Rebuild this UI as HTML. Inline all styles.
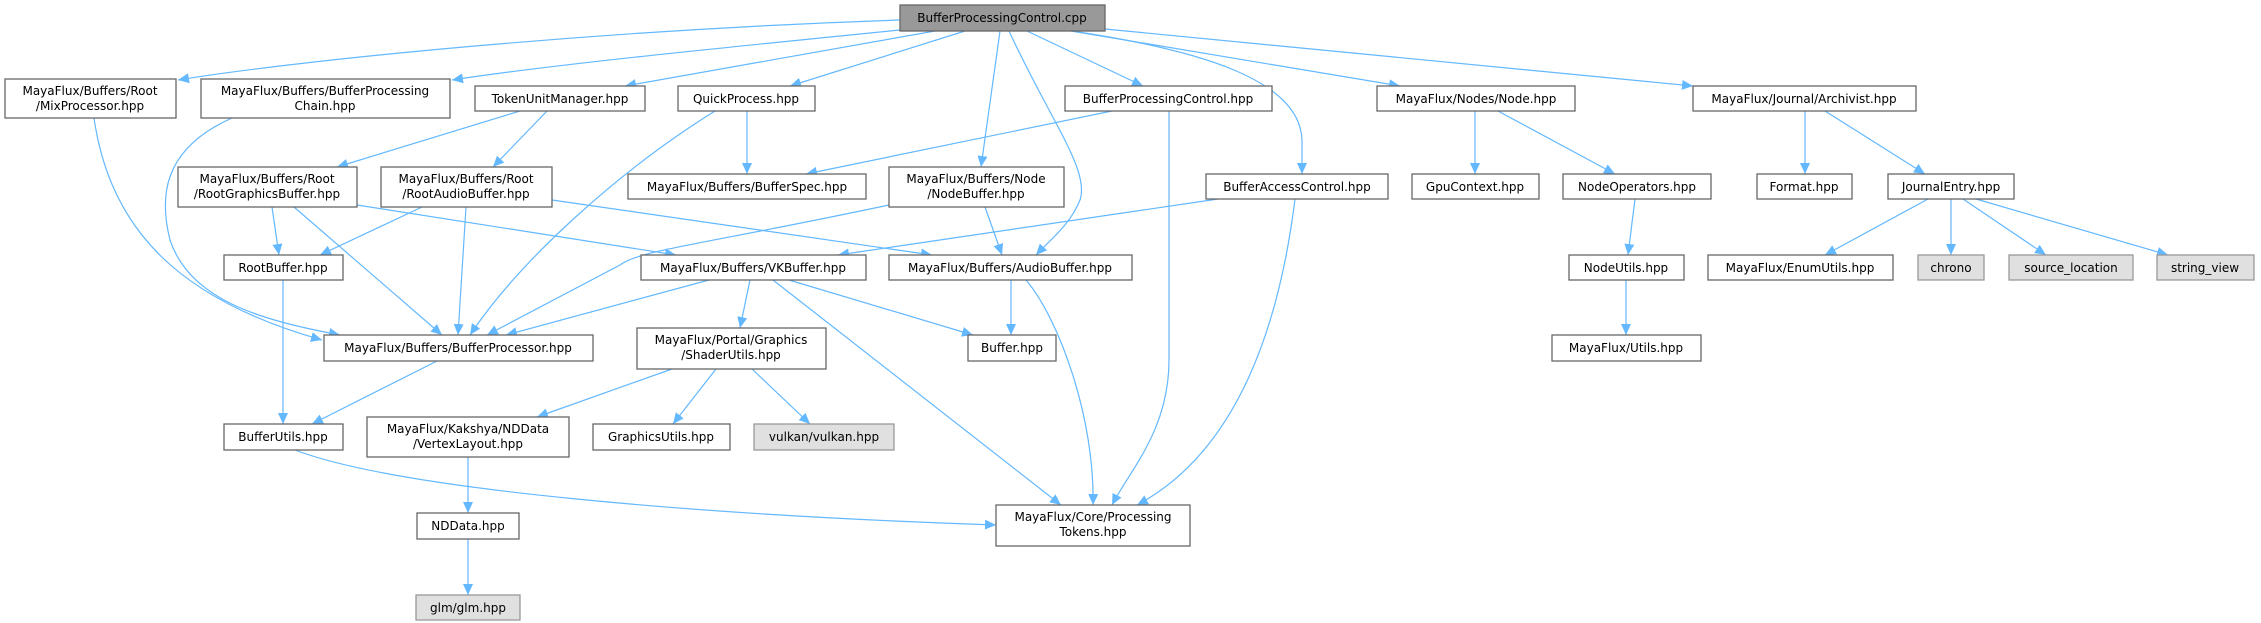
<!DOCTYPE html>
<html><head><meta charset="utf-8"><style>
html,body{margin:0;padding:0;background:#fff;}
svg{display:block;}
text{font-family:"DejaVu Sans","Liberation Sans",sans-serif;font-size:12px;fill:#000;}
.n{fill:#fff;stroke:#666;stroke-width:1.3;}
.g{fill:#e0e0e0;stroke:#999;stroke-width:1.3;}
.m{fill:#999;stroke:#666;stroke-width:1.3;}
.e{fill:none;stroke:#63b8ff;stroke-width:1.2;}
</style></head><body>
<svg width="2261" height="623" viewBox="0 0 2261 623" xmlns="http://www.w3.org/2000/svg">
<defs><marker id="a" markerUnits="userSpaceOnUse" markerWidth="12" markerHeight="10" refX="11" refY="5" orient="auto"><path d="M0,0 L11,5 L0,10 Z" fill="#63b8ff"/></marker></defs>
<g marker-end="url(#a)">
<path class="e" d="M900,20 C600,30 300,60 178,80"/>
<path class="e" d="M900,30 C700,50 550,65 452,80"/>
<path class="e" d="M935,31 C800,55 700,72 625,86"/>
<path class="e" d="M965,31 L790,86"/>
<path class="e" d="M1000,31 L981,167"/>
<path class="e" d="M1009,31 C1050,120 1090,170 1080,200 C1070,225 1050,240 1036,255"/>
<path class="e" d="M1027,31 L1143,86"/>
<path class="e" d="M1072,31 C1200,50 1300,80 1302,140 L1302,174"/>
<path class="e" d="M1071,31 L1400,86"/>
<path class="e" d="M1105,29 L1693,86"/>
<path class="e" d="M520,111 L337,167"/>
<path class="e" d="M547,111 L493,167"/>
<path class="e" d="M747,111 L747,174"/>
<path class="e" d="M715,111 C620,170 520,260 470,335"/>
<path class="e" d="M1112,111 L806,174"/>
<path class="e" d="M1169,111 L1169,360 C1169,430 1130,470 1112,505"/>
<path class="e" d="M1295,199 C1280,320 1240,450 1137,505"/>
<path class="e" d="M1026,280 C1060,320 1095,420 1093,505"/>
<path class="e" d="M1011,280 L1011,335"/>
<path class="e" d="M773,280 L1061,505"/>
<path class="e" d="M789,280 L973,335"/>
<path class="e" d="M750,280 L740,328"/>
<path class="e" d="M709,280 L506,335"/>
<path class="e" d="M1475,111 L1475,174"/>
<path class="e" d="M1498,111 L1615,174"/>
<path class="e" d="M1805,111 L1805,174"/>
<path class="e" d="M1825,111 L1925,174"/>
<path class="e" d="M1928,199 L1825,255"/>
<path class="e" d="M1951,199 L1951,255"/>
<path class="e" d="M1963,199 L2046,255"/>
<path class="e" d="M1976,199 L2168,255"/>
<path class="e" d="M1635,199 L1628,255"/>
<path class="e" d="M1626,280 L1626,335"/>
<path class="e" d="M985,207 L1002,255"/>
<path class="e" d="M94,118 C110,230 180,300 322,340"/>
<path class="e" d="M232,118 C160,150 160,200 170,240 C190,300 260,320 340,335"/>
<path class="e" d="M272,207 L279,255"/>
<path class="e" d="M294,207 L442,335"/>
<path class="e" d="M357,205 L676,255"/>
<path class="e" d="M422,207 L320,255"/>
<path class="e" d="M466,207 L458,335"/>
<path class="e" d="M552,200 L932,255"/>
<path class="e" d="M889,205 C700,245 640,250 620,265 L487,335"/>
<path class="e" d="M1218,199 L838,255"/>
<path class="e" d="M283,280 L283,424"/>
<path class="e" d="M437,361 L312,424"/>
<path class="e" d="M295,450 C400,490 700,515 996,525"/>
<path class="e" d="M672,369 L537,417"/>
<path class="e" d="M716,369 L673,424"/>
<path class="e" d="M752,369 L810,424"/>
<path class="e" d="M468,457 L468,513"/>
<path class="e" d="M468,539 L468,595"/>
</g>
<g text-anchor="middle">
<rect class="m" x="900" y="5" width="205" height="26"/><text x="1002" y="22">BufferProcessingControl.cpp</text>
<rect class="n" x="5" y="79" width="171" height="39"/><text x="90" y="95">MayaFlux/Buffers/Root</text><text x="90" y="110">/MixProcessor.hpp</text>
<rect class="n" x="201" y="79" width="249" height="39"/><text x="325" y="95">MayaFlux/Buffers/BufferProcessing</text><text x="325" y="110">Chain.hpp</text>
<rect class="n" x="475" y="86" width="170" height="25"/><text x="560" y="103">TokenUnitManager.hpp</text>
<rect class="n" x="678" y="86" width="137" height="25"/><text x="746" y="103">QuickProcess.hpp</text>
<rect class="n" x="1065" y="86" width="207" height="25"/><text x="1168" y="103">BufferProcessingControl.hpp</text>
<rect class="n" x="1377" y="86" width="198" height="25"/><text x="1476" y="103">MayaFlux/Nodes/Node.hpp</text>
<rect class="n" x="1693" y="86" width="223" height="25"/><text x="1804" y="103">MayaFlux/Journal/Archivist.hpp</text>
<rect class="n" x="178" y="167" width="179" height="40"/><text x="267" y="183">MayaFlux/Buffers/Root</text><text x="267" y="198">/RootGraphicsBuffer.hpp</text>
<rect class="n" x="381" y="167" width="171" height="40"/><text x="466" y="183">MayaFlux/Buffers/Root</text><text x="466" y="198">/RootAudioBuffer.hpp</text>
<rect class="n" x="628" y="174" width="238" height="25"/><text x="747" y="191">MayaFlux/Buffers/BufferSpec.hpp</text>
<rect class="n" x="889" y="167" width="175" height="40"/><text x="976" y="183">MayaFlux/Buffers/Node</text><text x="976" y="198">/NodeBuffer.hpp</text>
<rect class="n" x="1206" y="174" width="182" height="25"/><text x="1297" y="191">BufferAccessControl.hpp</text>
<rect class="n" x="1412" y="174" width="127" height="25"/><text x="1475" y="191">GpuContext.hpp</text>
<rect class="n" x="1563" y="174" width="148" height="25"/><text x="1637" y="191">NodeOperators.hpp</text>
<rect class="n" x="1757" y="174" width="95" height="25"/><text x="1804" y="191">Format.hpp</text>
<rect class="n" x="1888" y="174" width="126" height="25"/><text x="1951" y="191">JournalEntry.hpp</text>
<rect class="n" x="224" y="255" width="119" height="25"/><text x="283" y="272">RootBuffer.hpp</text>
<rect class="n" x="641" y="255" width="225" height="25"/><text x="753" y="272">MayaFlux/Buffers/VKBuffer.hpp</text>
<rect class="n" x="889" y="255" width="243" height="25"/><text x="1010" y="272">MayaFlux/Buffers/AudioBuffer.hpp</text>
<rect class="n" x="1569" y="255" width="115" height="25"/><text x="1626" y="272">NodeUtils.hpp</text>
<rect class="n" x="1708" y="255" width="185" height="25"/><text x="1800" y="272">MayaFlux/EnumUtils.hpp</text>
<rect class="g" x="1918" y="255" width="66" height="25"/><text x="1951" y="272">chrono</text>
<rect class="g" x="2009" y="255" width="124" height="25"/><text x="2071" y="272">source_location</text>
<rect class="g" x="2157" y="255" width="97" height="25"/><text x="2205" y="272">string_view</text>
<rect class="n" x="324" y="335" width="269" height="26"/><text x="458" y="352">MayaFlux/Buffers/BufferProcessor.hpp</text>
<rect class="n" x="637" y="328" width="189" height="41"/><text x="731" y="344">MayaFlux/Portal/Graphics</text><text x="731" y="359">/ShaderUtils.hpp</text>
<rect class="n" x="968" y="335" width="88" height="26"/><text x="1012" y="352">Buffer.hpp</text>
<rect class="n" x="1552" y="335" width="149" height="26"/><text x="1626" y="352">MayaFlux/Utils.hpp</text>
<rect class="n" x="224" y="424" width="119" height="26"/><text x="283" y="441">BufferUtils.hpp</text>
<rect class="n" x="367" y="417" width="202" height="40"/><text x="468" y="433">MayaFlux/Kakshya/NDData</text><text x="468" y="448">/VertexLayout.hpp</text>
<rect class="n" x="593" y="424" width="137" height="26"/><text x="661" y="441">GraphicsUtils.hpp</text>
<rect class="g" x="754" y="424" width="140" height="26"/><text x="824" y="441">vulkan/vulkan.hpp</text>
<rect class="n" x="996" y="505" width="194" height="41"/><text x="1093" y="521">MayaFlux/Core/Processing</text><text x="1093" y="536">Tokens.hpp</text>
<rect class="n" x="417" y="513" width="102" height="26"/><text x="468" y="530">NDData.hpp</text>
<rect class="g" x="416" y="595" width="104" height="25"/><text x="468" y="612">glm/glm.hpp</text>
</g>
</svg>
</body></html>
